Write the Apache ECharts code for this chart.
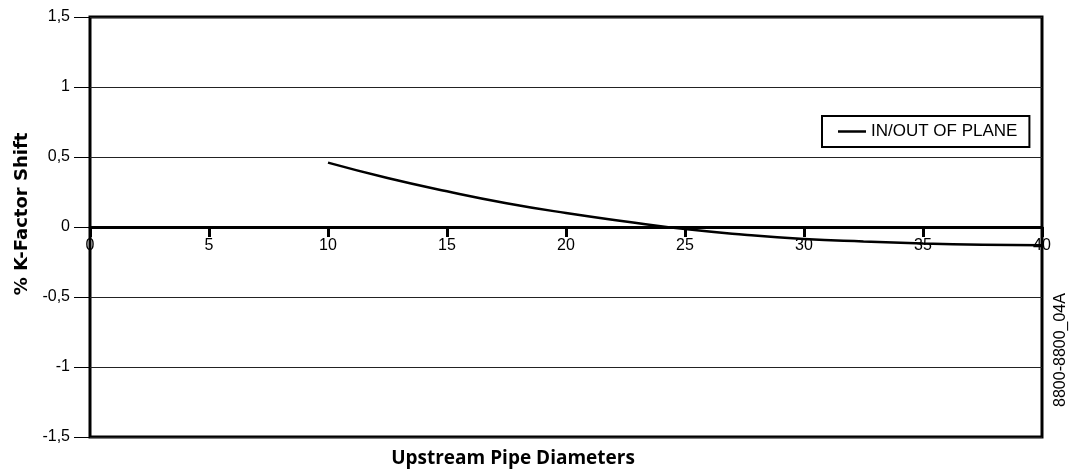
<!DOCTYPE html>
<html>
<head>
<meta charset="utf-8">
<script src="https://cdn.jsdelivr.net/npm/echarts@6/dist/echarts.min.js"></script>
<style>
html,body{margin:0;padding:0;background:#fff;}
#chart{width:1081px;height:472px;}
</style>
</head>
<body>
<div id="chart"></div>
<script>
// upstream pipe diameters vs % K-factor shift
var xDiam = [10, 12.5, 15, 17.5, 20, 22.5, 25, 27.5, 30, 32.5, 35, 37.5, 40];
var kShift = [0.46, 0.35, 0.255, 0.17, 0.10, 0.04, -0.015, -0.055, -0.085, -0.103, -0.117, -0.126, -0.13];
var seriesName = 'IN/OUT OF PLANE';
var xTitle = 'Upstream Pipe Diameters';
var yTitle = '% K-Factor Shift';
var figId = '8800-8800_04A';

var chart = echarts.init(document.getElementById('chart'));

var pts = [];
for (var i = 0; i < xDiam.length; i++) {
	pts.push([xDiam[i], kShift[i]]);
}

// plot height 420, zero sits halfway -> lift the x axis up by 210
var option = {
	animation: false,
	backgroundColor: '#fff',
	grid: {
		left: 90,
		right: 39,
		top: 17,
		bottom: 35,
		show: true,
		borderColor: '#000',
		borderWidth: 3
	},
	legend: {
		data: [{name: seriesName, icon: 'rect'}],
		left: 822,
		top: 116,
		padding: [7, 12, 7, 16],
		itemWidth: 28,
		itemHeight: 2.5,
		itemGap: 10,
		borderColor: '#000',
		borderWidth: 2,
		borderRadius: 0,
		backgroundColor: '#fff',
		textStyle: {
			color: '#000',
			fontSize: 17,
			fontFamily: 'Liberation Sans'
		}
	},
	xAxis: {
		type: 'value',
		min: 0,
		max: 40,
		interval: 5,
		position: 'bottom',
		offset: -210,
		axisLine: {
			onZero: false,
			lineStyle: {color: '#000', width: 3}
		},
		axisTick: {
			show: true,
			length: 10,
			lineStyle: {color: '#000', width: 3}
		},
		axisLabel: {
			color: '#000',
			fontSize: 16,
			margin: 11,
			fontFamily: 'Liberation Sans'
		},
		splitLine: {show: false}
	},
	yAxis: {
		type: 'value',
		min: -1.5,
		max: 1.5,
		interval: 0.5,
		axisLine: {show: false},
		axisTick: {
			show: true,
			length: 16,
			lineStyle: {color: '#000', width: 1}
		},
		axisLabel: {
			color: '#000',
			fontSize: 16,
			margin: 20,
			fontFamily: 'Liberation Sans',
			formatter: function (v) {
				return String(v).replace('.', ',');
			}
		},
		splitLine: {
			show: true,
			lineStyle: {color: '#222', width: 1}
		}
	},
	graphic: [
		{
			type: 'text',
			x: 22,
			y: 214,
			rotation: Math.PI / 2,
			style: {
				text: yTitle,
				fill: '#000',
				font: 'bold 18px "DejaVu Sans"',
				align: 'center',
				verticalAlign: 'middle'
			}
		},
		{
			type: 'text',
			x: 513,
			y: 459,
			style: {
				text: xTitle,
				fill: '#000',
				font: 'bold 19px "Open Sans"',
				align: 'center',
				verticalAlign: 'middle'
			}
		},
		{
			type: 'text',
			x: 1061,
			y: 350,
			rotation: Math.PI / 2,
			style: {
				text: figId,
				fill: '#000',
				font: '16px "Liberation Sans"',
				align: 'center',
				verticalAlign: 'middle'
			}
		}
	],
	series: [{
		name: seriesName,
		type: 'line',
		smooth: true,
		symbol: 'none',
		lineStyle: {color: '#000', width: 2.5},
		itemStyle: {color: '#000'},
		data: pts
	}]
};

chart.setOption(option);
</script>
</body>
</html>
